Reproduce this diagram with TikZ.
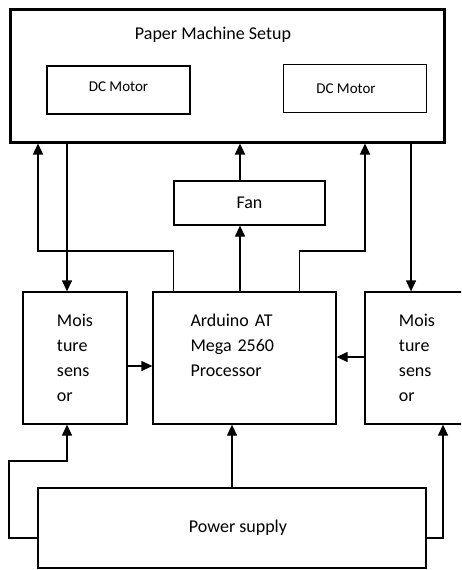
\documentclass[tikz,border=0pt]{standalone}
\usepackage{fontspec}
\setmainfont{Carlito}
\usetikzlibrary{arrows.meta}
\begin{document}
\begin{tikzpicture}[x=1pt, y=-1pt,
	block/.style={draw, line width=1.3pt, rectangle, inner sep=0pt, font=\fontsize{18}{25}\selectfont},
	motor/.style={block, minimum width=143pt, minimum height=48pt, font=\fontsize{15}{18}\selectfont},
	sensor/.style={block, minimum width=104pt, minimum height=132pt, align=left},
	arr/.style={line width=1.3pt, -{Triangle[length=11pt, width=10pt]}},
	wire/.style={line width=1.3pt}]
	\clip (0,0) rectangle (461,570);
	\fill[white] (0,0) rectangle (461,570);

	\node[block, line width=3pt, minimum width=434pt, minimum height=133pt] (setup) at (227,75.5) {};
	\node[font=\fontsize{18}{25}\selectfont] (title) at (213,35) {Paper Machine Setup};
	\node[motor] (motorL) at (118.5,90) {\raisebox{6pt}{DC Motor}};
	\node[motor] (motorR) at (355,88.5) {\hspace*{-18pt}DC Motor};

	\node[block, minimum width=151pt, minimum height=44pt] (fan) at (249.5,203) {Fan};
	\node[sensor] (sensL) at (75,358) {Mois\\ture\\sens\\or};
	\node[sensor, text width=100pt, minimum width=183pt] (arduino) at (244.5,358) {\hspace*{-4pt}Arduino AT\\\hspace*{-4pt}Mega 2560\\\hspace*{-4pt}Processor\\\mbox{}};
	\node[sensor] (sensR) at (417,358) {Mois\\ture\\sens\\or};
	\node[block, minimum width=388pt, minimum height=80pt] (power) at (232,528) {\hspace*{12pt}Power supply};

	% junctions and wire columns
	\coordinate (jl) at (38,251);
	\coordinate (jr) at (365,251);
	\coordinate (dl) at (67,0);
	\coordinate (dr) at (411,0);
	\coordinate (cx) at (240,0);
	\coordinate (ly) at (0,366);
	\coordinate (ry) at (0,357);
	\coordinate (pl) at (9,461);
	\coordinate (pr) at (443,0);

	% processor to machine and fan
	\draw[arr] ([xshift=21pt]arduino.north west) |- (jl) -- (jl |- setup.south);
	\draw[arr] ([xshift=-37.5pt]arduino.north east) |- (jr) -- (jr |- setup.south);
	\draw[arr] (cx |- arduino.north) -- (cx |- fan.south);
	\draw[arr] (cx |- fan.north) -- (cx |- setup.south);

	% machine to sensors
	\draw[arr] (dl |- setup.south) -- (dl |- sensL.north);
	\draw[arr] (dr |- setup.south) -- (dr |- sensR.north);

	% sensors to processor
	\draw[arr] (sensL.east |- ly) -- (arduino.west |- ly);
	\draw[arr] (sensR.west |- ry) -- (arduino.east |- ry);

	% power supply
	\draw[arr] ([yshift=-10pt]power.west) -| (pl) -| (dl |- sensL.south);
	\draw[arr] (power.north) -- (power.north |- arduino.south);
	\draw[arr] ([yshift=-10pt]power.east) -| (pr |- sensR.south);
\end{tikzpicture}
\end{document}
